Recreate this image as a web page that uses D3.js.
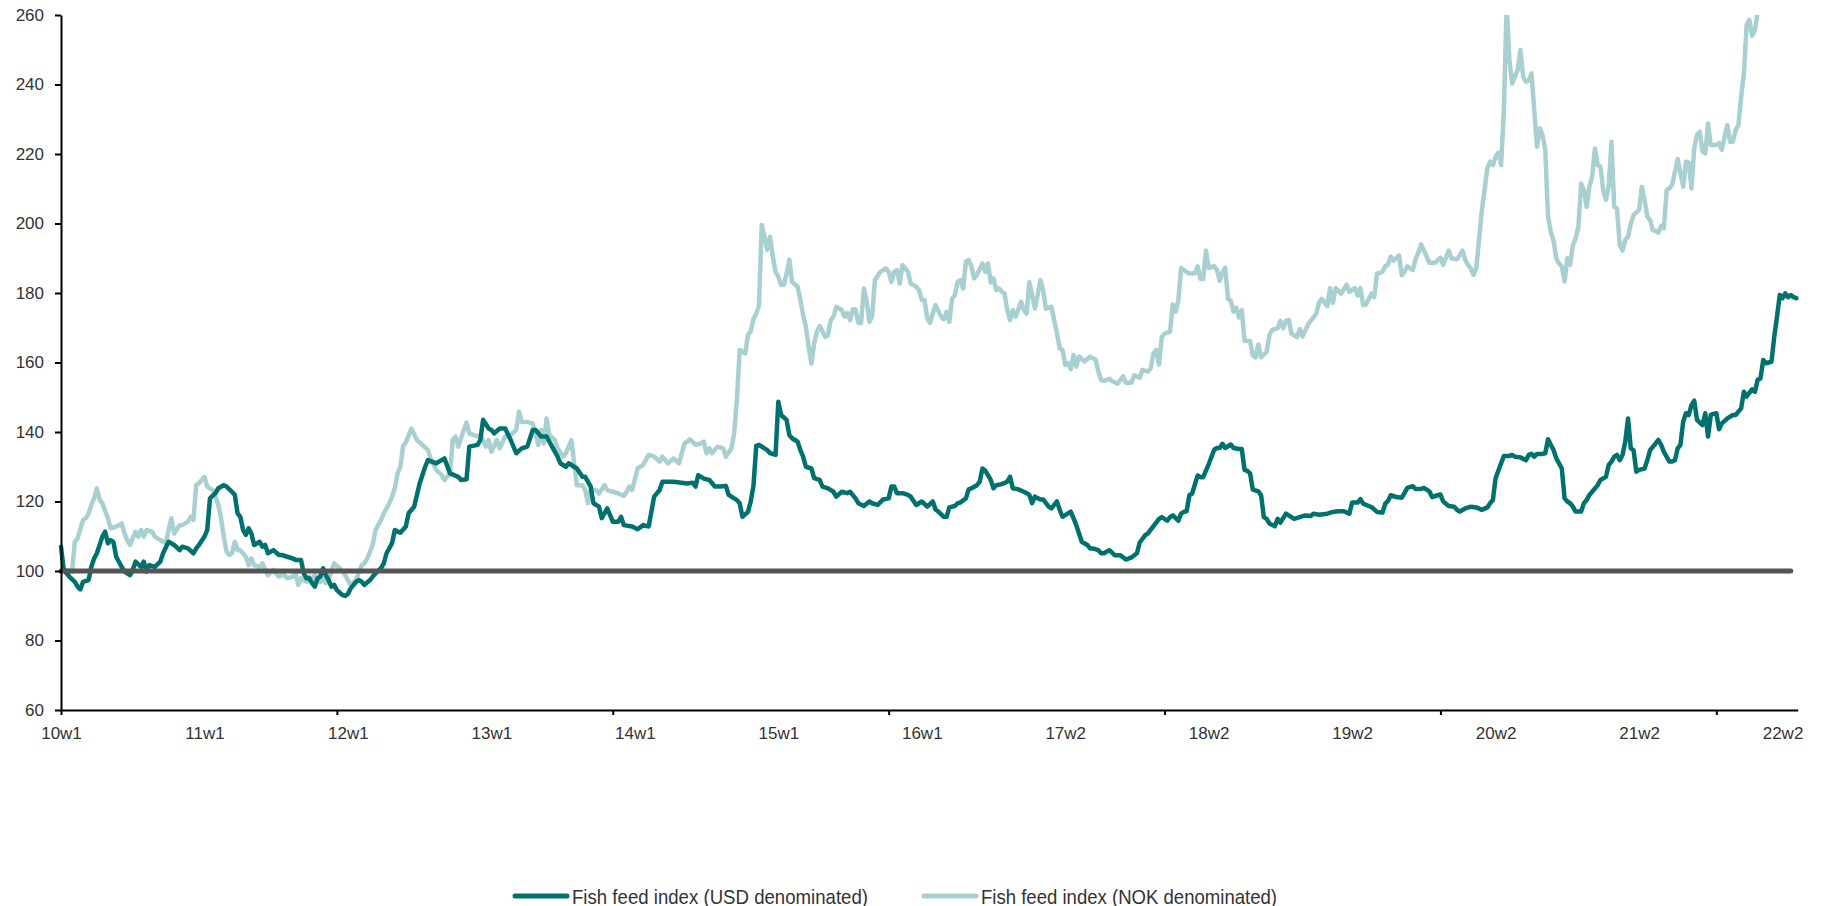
<!DOCTYPE html>
<html>
<head>
<meta charset="utf-8">
<script src="https://d3js.org/d3.v7.min.js"></script>
<style>
	body { margin: 0; background: #fff; }
	svg { display: block; }
</style>
</head>
<body>
<script>
// [week index, value], week 0 = 10w1
const usdSeries = [
	[0, 107], [1, 100.3], [3, 98.4], [5, 96.9], [6, 95.5], [7, 94.7], [8, 96.9], [10, 97.4], [11, 101.2], [12, 103.6],
	[13, 105.1], [15, 109.9], [16, 111.3], [17, 108], [18, 108.9], [19, 108.4], [20, 104.1], [22, 101.2], [23, 99.8], [25, 98.8],
	[26, 100.3], [27, 102.7], [29, 101.2], [30, 102.7], [31, 99.8], [32, 101.7], [34, 101.2], [36, 102.7], [37, 105.1], [39, 108.4],
	[41, 107.5], [43, 106], [44, 107], [46, 106.5], [48, 105.1], [49, 106.5], [50, 107.5], [52, 109.9], [53, 111.8], [54, 120.9],
	[56, 122.4], [57, 123.8], [59, 124.7], [60, 124.3], [62, 122.8], [63, 121.9], [64, 116.6], [65, 115.6], [66, 111.8], [67, 110.4],
	[68, 112.3], [69, 110.8], [70, 107.5], [72, 108.4], [73, 107], [74, 107.5], [75, 105.1], [77, 106], [79, 104.6], [80, 104.6],
	[82, 104.1], [84, 103.6], [85, 103.2], [87, 103.2], [88, 99.3], [89, 97.9], [90, 97.9], [91, 96.5], [92, 95.5], [93, 97.9],
	[94, 98.4], [95, 100.8], [96, 98.8], [97, 97.4], [98, 95.5], [99, 96], [100, 94.5], [102, 93.1], [103, 92.8], [104, 93.4],
	[105, 95], [107, 96.9], [108, 97.4], [109, 96.9], [110, 96], [112, 97.4], [113, 98.4], [114, 99.3], [116, 100.8], [117, 102.2],
	[118, 105.1], [120, 108], [121, 111.8], [123, 111], [125, 112.8], [126, 116.6], [128, 118.5], [130, 125.2], [132, 130], [133, 131.9],
	[136, 131], [139, 132.4], [141, 128.1], [144, 127.1], [145, 126.2], [147, 126.4], [148, 135.8], [151, 136.3], [152, 137.7], [153, 143.5],
	[155, 141], [156, 140.6], [157, 139.6], [159, 141], [161, 141], [163, 137.7], [165, 133.9], [167, 135.3], [169, 135.8], [171, 140.6],
	[172, 140.6], [174, 138.7], [176, 138.7], [178, 135.8], [180, 132.9], [181, 131], [183, 130], [184, 131], [187, 129.5], [189, 127.1],
	[190, 127.1], [192, 124.3], [193, 119.5], [195, 118.5], [196, 115.2], [198, 118], [200, 114.2], [202, 114.2], [203, 115.6], [204, 113.2],
	[207, 112.8], [209, 112], [211, 113.2], [213, 112.8], [215, 121.4], [217, 123.3], [218, 125.7], [222, 125.7], [227, 125.2], [229, 125.4],
	[230, 124.3], [231, 127.6], [233, 126.6], [235, 126.2], [237, 124.3], [239, 124.3], [241, 124.5], [242, 121.9], [245, 120.4], [246, 119.5],
	[247, 115.6], [249, 117], [250, 120], [251, 124.5], [252, 136], [253, 136.3], [255, 135.3], [256, 134.8], [257, 133.9], [259, 133.4],
	[260, 148.7], [261, 144.9], [263, 143.5], [264, 139.1], [265, 138.2], [267, 137.2], [268, 134.8], [269, 132.9], [270, 130], [272, 129.5],
	[273, 126.7], [275, 126.2], [276, 124.3], [278, 123.8], [280, 122.8], [281, 121.4], [283, 122.8], [285, 122.4], [286, 122.8], [288, 120.9],
	[289, 119.5], [291, 118.7], [293, 120], [294, 119.5], [296, 119], [298, 120.6], [300, 120.9], [301, 124.3], [302, 124.3], [303, 122.4],
	[305, 122.4], [307, 121.9], [308, 121.4], [310, 119], [312, 120], [314, 118.5], [316, 120], [317, 117.7], [318, 117.1], [320, 115.6],
	[321, 115.6], [322, 118.3], [324, 118.7], [325, 119.5], [326, 119.7], [328, 120.9], [329, 123.5], [330, 123.8], [332, 124.7], [333, 125.7],
	[334, 129.5], [335, 128.9], [336, 127.6], [337, 126.2], [338, 123.8], [339, 124.7], [341, 125], [343, 125.7], [344, 127.1], [345, 123.8],
	[347, 123.5], [349, 122.8], [350, 122.4], [351, 121.9], [352, 119.5], [353, 121.4], [355, 120.6], [356, 120.6], [358, 118.5], [359, 118],
	[360, 119], [361, 120], [362, 117.6], [363, 115.6], [364, 116.1], [366, 117.1], [367, 115.2], [368, 113.2], [369, 110.8], [370, 108.4],
	[372, 107.5], [373, 106.5], [374, 106.5], [376, 106], [377, 105.1], [378, 105.1], [380, 106], [382, 104.5], [384, 104.5], [386, 103.3],
	[388, 103.9], [390, 105.1], [391, 108.2], [393, 110.3], [394, 110.8], [396, 112.9], [398, 115], [399, 115.5], [401, 114.5], [402, 115.5],
	[403, 116], [405, 114.5], [406, 116.5], [407, 117], [408, 117.2], [409, 121.8], [410, 122.3], [412, 127.5], [413, 127], [414, 127],
	[416, 130.7], [418, 134.9], [419, 135.4], [420, 135.4], [421, 136.6], [422, 135.4], [424, 136.4], [425, 135.4], [427, 135.1], [428, 135.1],
	[429, 129.1], [430, 128.8], [431, 128.1], [432, 123.4], [434, 122.9], [435, 121.8], [436, 115.5], [437, 115], [438, 113.7], [440, 112.9],
	[441, 115], [442, 113.9], [444, 116.5], [445, 116], [447, 115], [449, 115.5], [451, 116], [453, 115.8], [454, 116.5], [456, 116.2],
	[459, 116.5], [461, 117], [463, 117.2], [465, 117.2], [467, 116.5], [468, 119.7], [470, 119.7], [471, 120.7], [472, 119.4], [474, 118.7],
	[475, 118.4], [477, 117], [479, 116.8], [480, 119.4], [481, 120.2], [482, 121.8], [484, 121.3], [486, 121.1], [487, 122.5], [488, 123.9],
	[490, 124.4], [491, 123.6], [493, 123.6], [494, 123.9], [496, 122.9], [497, 121.3], [499, 121.8], [500, 122], [501, 120], [503, 118.7],
	[505, 118.5], [506, 117.6], [507, 117.1], [509, 118], [511, 118.5], [513, 118.3], [515, 117.6], [517, 118.3], [518, 119.5], [519, 120.4],
	[520, 126.7], [522, 131], [523, 133.1], [525, 133.1], [526, 133.4], [527, 132.9], [529, 132.7], [531, 131.9], [532, 133.4], [533, 133.7],
	[534, 132.9], [535, 133.7], [537, 133.7], [538, 133.9], [539, 137.9], [540, 136.3], [541, 134.8], [542, 132.4], [544, 129.5], [545, 120.9],
	[546, 120], [547, 119.5], [548, 118.5], [549, 117.1], [551, 117.1], [552, 119.5], [553, 120.4], [554, 121.9], [555, 122.8], [557, 124.7],
	[558, 126.2], [560, 127.1], [561, 130.5], [562, 131.5], [563, 132.9], [564, 133.4], [565, 131.9], [566, 133.4], [567, 137.2], [568, 143.9],
	[569, 135.3], [570, 134.8], [571, 128.6], [572, 129.1], [574, 129.5], [575, 131.9], [576, 134.8], [578, 136.7], [579, 137.7], [580, 136.3],
	[581, 134.3], [583, 131.5], [584, 131.5], [585, 131.9], [586, 135.3], [587, 136.3], [588, 143], [589, 145.4], [590, 144.9], [591, 147.8],
	[592, 149], [593, 143.5], [595, 142], [596, 145.4], [597, 138.7], [598, 144.9], [599, 145.2], [600, 145.4], [601, 140.8], [602, 142.5],
	[604, 143.9], [606, 144.9], [607, 144.9], [609, 146.8], [610, 151.6], [611, 150.2], [612, 151.3], [613, 152.3], [614, 151.6], [615, 155],
	[616, 155.4], [617, 160.7], [618, 159.8], [620, 160.2], [621, 167.4], [622, 173.2], [623, 179.4], [624, 178.5], [625, 179.9], [626, 178.8],
	[627, 179.4], [628, 178.8], [629, 178.5]
];

const nokSeries = [
	[0, 99.8], [2, 100.3], [4, 99.8], [5, 108.4], [6, 109.4], [8, 114.7], [9, 115.2], [10, 116.6], [11, 119], [12, 121],
	[13, 123.8], [14, 120.4], [15, 119.5], [17, 115.2], [18, 112.3], [20, 112.8], [21, 113.2], [22, 113.7], [23, 110.8], [24, 108.9],
	[25, 107.5], [27, 111.3], [28, 109.9], [29, 111.8], [30, 109.9], [31, 111.8], [33, 111.3], [34, 109.9], [36, 108.9], [38, 108],
	[39, 111.8], [40, 115.2], [41, 110.8], [43, 113.2], [44, 113.2], [46, 114.2], [47, 115.6], [48, 114.7], [49, 124.7], [50, 125.2],
	[51, 126.2], [52, 127.1], [53, 124.3], [55, 123.3], [56, 121.4], [57, 119], [58, 115.2], [59, 109.9], [60, 105.6], [61, 104.6],
	[62, 105.1], [63, 108.4], [64, 106], [65, 106], [67, 104.1], [68, 101.7], [69, 103.6], [70, 101.7], [72, 101.2], [73, 102.2],
	[74, 100.3], [75, 98.8], [77, 100.3], [78, 99.3], [79, 98.4], [80, 98.8], [81, 98.8], [82, 97.9], [84, 98.4], [85, 99.3],
	[86, 96], [87, 97.9], [89, 96.9], [90, 98.4], [91, 97.4], [92, 98.8], [94, 96.9], [95, 97.9], [96, 96.5], [97, 97.4],
	[98, 99.8], [99, 102.2], [101, 100.8], [102, 99.8], [103, 98.8], [104, 97.4], [105, 96], [107, 97.4], [108, 99.8], [109, 101.7],
	[110, 102.2], [111, 103.6], [113, 107.5], [114, 111.8], [116, 114.7], [117, 116.6], [119, 119.5], [120, 121.4], [121, 123.8], [122, 128.1],
	[123, 130], [124, 136], [125, 137], [127, 141], [129, 137.7], [131, 136.3], [133, 134.8], [134, 132.4], [136, 129.1], [138, 127.6],
	[139, 126.2], [141, 128.1], [142, 137.7], [143, 138.7], [144, 135.8], [146, 140.6], [147, 142.7], [148, 139.6], [151, 138.7], [152, 139.1],
	[154, 135.8], [155, 137.7], [156, 134.3], [158, 137.7], [159, 135.3], [161, 138.7], [163, 139.1], [165, 140.6], [166, 145.8], [167, 142.9],
	[169, 142.9], [171, 142.4], [172, 139.6], [173, 136.3], [174, 140.6], [175, 136.7], [176, 143.9], [177, 139.1], [179, 137.7], [180, 135.3],
	[182, 132.9], [183, 133.9], [185, 137.7], [186, 131], [187, 124.7], [189, 124.7], [190, 123.3], [191, 119.5], [192, 123.3], [194, 123.3],
	[195, 122.3], [197, 124.7], [198, 123.3], [200, 122.8], [202, 122.3], [204, 121.6], [205, 122.8], [206, 124.3], [207, 123.3], [209, 129.5],
	[211, 130.5], [213, 133.4], [215, 132.9], [217, 131.5], [218, 132.9], [220, 131], [222, 132.4], [224, 131], [226, 136.7], [227, 137.2],
	[228, 137.9], [230, 136.3], [232, 136.7], [233, 137.2], [234, 133.9], [235, 135.3], [236, 133.9], [238, 135.8], [240, 135.3], [241, 132.9],
	[243, 135.3], [244, 139.6], [245, 149.2], [246, 163.6], [248, 162.6], [249, 167.9], [250, 169], [251, 172.5], [252, 174], [253, 176.5],
	[254, 199.6], [255, 196.2], [256, 192.4], [257, 196.2], [258, 190.5], [259, 186.1], [260, 184.7], [261, 182.3], [262, 182.3], [263, 185.6],
	[264, 189.6], [265, 183.2], [267, 181.8], [268, 178], [269, 173.7], [270, 170.3], [271, 164.5], [272, 159.7], [273, 165.5], [274, 168.9],
	[275, 170.5], [277, 167.4], [278, 167.9], [279, 172.2], [280, 173.2], [281, 176], [283, 175.1], [284, 173.2], [285, 174.3], [286, 172.2],
	[287, 175.3], [288, 175.3], [289, 171.4], [290, 171.3], [291, 181.3], [292, 178], [293, 171.7], [294, 173.2], [295, 183.7], [297, 186.1],
	[298, 186.6], [299, 187.1], [300, 186.1], [301, 183.2], [302, 186.1], [303, 186.6], [304, 182.7], [305, 188], [307, 186.1], [308, 182.7],
	[310, 181.8], [311, 180.8], [312, 178], [313, 178], [314, 172.7], [315, 171.4], [316, 174.1], [317, 176.5], [319, 173.2], [320, 172.4],
	[321, 174.6], [322, 171.7], [323, 178.4], [324, 179.4], [325, 183.2], [326, 183.7], [327, 181.3], [328, 189], [329, 189.5], [330, 187.6],
	[331, 184.2], [332, 185.2], [334, 188.5], [335, 186.1], [336, 188.5], [337, 183], [338, 184.2], [339, 180.8], [340, 181.3], [341, 180.4],
	[342, 179.9], [343, 175.1], [344, 172.2], [345, 175.1], [346, 173.2], [348, 177.5], [349, 175.1], [350, 174.1], [351, 183.2], [352, 179.4],
	[353, 175.5], [354, 179.4], [355, 183.7], [356, 180.8], [357, 175.5], [359, 176], [360, 172.2], [361, 168.4], [362, 164.1], [363, 163.6],
	[364, 159.3], [365, 159.8], [366, 158.1], [367, 162.2], [368, 158.8], [369, 161.7], [371, 160.3], [372, 161], [373, 161.7], [375, 160.8],
	[376, 157.4], [377, 155], [378, 154.7], [380, 155.3], [381, 154.7], [383, 153.9], [385, 156], [386, 154.2], [388, 154.2], [389, 156.3],
	[391, 155.6], [392, 157.9], [394, 157.4], [395, 158.4], [396, 162.6], [397, 163.6], [398, 159.4], [399, 167.3], [400, 168.3], [402, 168.9],
	[403, 176.7], [404, 174.6], [405, 177.8], [406, 187.2], [407, 186.6], [409, 185.6], [411, 185.6], [412, 187.7], [413, 184], [414, 184],
	[415, 192.2], [416, 187.2], [418, 187.7], [419, 186.6], [420, 183.5], [421, 185.9], [422, 187.2], [423, 178.3], [424, 177.8], [425, 174.6],
	[426, 175.8], [427, 173], [428, 175.1], [429, 166.2], [431, 166.2], [432, 162], [433, 161.5], [434, 165.2], [435, 161.5], [437, 163.1],
	[438, 167.8], [439, 169.4], [441, 169.9], [442, 172], [443, 169.9], [444, 172], [445, 172.3], [446, 168.3], [448, 167.3], [449, 169.6],
	[450, 167.5], [452, 170.9], [453, 172], [455, 174.1], [456, 177.2], [457, 178.3], [459, 176.2], [460, 181.4], [461, 177.2], [462, 181.4],
	[464, 179.8], [466, 182.4], [467, 180.3], [469, 181.4], [470, 179.3], [471, 181.4], [472, 176.5], [473, 176.7], [475, 179.8], [476, 178.8],
	[477, 185.6], [479, 186.1], [480, 187.7], [481, 188.2], [482, 190.5], [483, 189.3], [485, 190.8], [486, 185.1], [487, 186.1], [488, 187.7],
	[490, 186.6], [491, 189.8], [492, 191.6], [493, 194], [495, 190.5], [496, 188.7], [498, 188.7], [500, 190.2], [501, 188.1], [503, 192.2],
	[504, 190], [506, 189.7], [507, 190.9], [508, 192.2], [509, 189.5], [510, 188.1], [511, 187.1], [512, 185.2], [513, 187.1], [514, 195.3],
	[515, 203.9], [516, 209.6], [517, 215.9], [518, 217.8], [519, 216.8], [520, 219.2], [521, 220.4], [522, 216.8], [523, 232.7], [524, 263],
	[525, 247], [526, 240.3], [528, 244.2], [529, 249.9], [530, 242.2], [531, 240.8], [532, 241.1], [533, 243.2], [534, 232.7], [535, 222.1],
	[536, 227.4], [537, 225.5], [538, 221.2], [539, 202], [540, 197.6], [541, 195], [542, 190], [543, 188.5], [544, 187.6], [545, 183.3],
	[546, 190], [547, 188.1], [548, 193.8], [549, 195.7], [550, 199.1], [551, 211.5], [552, 209.6], [553, 204.8], [554, 210.6], [555, 213.5],
	[556, 221.6], [557, 216.8], [558, 216.4], [559, 209.6], [560, 206.8], [561, 210.6], [562, 223.5], [563, 204.8], [564, 204.4], [565, 193.8],
	[566, 192.2], [567, 195.3], [568, 196.2], [569, 200], [570, 202.4], [572, 203.9], [573, 210.6], [574, 206.8], [575, 202], [576, 201],
	[577, 198.1], [578, 197.9], [579, 197.4], [580, 199.3], [581, 198.7], [582, 209.6], [583, 210.1], [584, 211.1], [586, 218.6], [588, 210.6],
	[589, 217.8], [590, 217.5], [591, 210.1], [592, 221.6], [593, 225.5], [594, 226.4], [595, 220.7], [596, 220.2], [597, 228.8], [598, 222.6],
	[600, 222.6], [601, 223.1], [602, 221.2], [603, 225], [604, 228.3], [605, 223.5], [606, 223.5], [607, 226.9], [608, 228.3], [609, 236.5],
	[610, 243.2], [611, 257.1], [612, 258.6], [613, 254], [614, 255.7], [615, 261], [616, 266], [620, 270], [625, 276], [629, 280]
];

const baseSeries = [[0, 100], [627, 100]];

const yTicks = [60, 80, 100, 120, 140, 160, 180, 200, 220, 240, 260];
const xTickWeeks = [0, 100, 200, 300, 400, 500, 600];
const xLabelWeeks = [0, 52, 104, 156, 208, 260, 312, 364, 416, 468, 520, 572, 624];
const xLabels = [`10w1`, `11w1`, `12w1`, `13w1`, `14w1`, `15w1`, `16w1`, `17w2`, `18w2`, `19w2`, `20w2`, `21w2`, `22w2`];
const seriesNames = [`Fish feed index (USD denominated)`, `Fish feed index (NOK denominated)`];

const usdColor = `#00716c`;
const nokColor = `#a8d0d0`;
const labelFont = `'Liberation Sans', Arial, sans-serif`;

const svg = d3
	.select('body')
	.append('svg')
	.attr('width', 1823)
	.attr('height', 906);

const x = d3.scaleLinear().domain([0, 629.5]).range([61, 1797.7]);
const y = d3.scaleLinear().domain([60, 260]).range([710, 15]);

svg
	.append('defs')
	.append('clipPath')
	.attr('id', 'plot-area')
	.append('rect')
	.attr('x', 50)
	.attr('y', 15)
	.attr('width', 1760)
	.attr('height', 700);

const line = d3
	.line()
	.x(d => x(d[0]))
	.y(d => y(d[1]));

// NOK under USD, the 100 line on top
const lines = [
	{ values: nokSeries, color: nokColor, width: 4.5 },
	{ values: usdSeries, color: usdColor, width: 4.5 },
	{ values: baseSeries, color: `#555555`, width: 5 }
];

svg
	.append('g')
	.attr('clip-path', 'url(#plot-area)')
	.selectAll('path')
	.data(lines)
	.enter()
	.append('path')
	.attr('d', d => line(d.values))
	.attr('fill', 'none')
	.attr('stroke', d => d.color)
	.attr('stroke-width', d => d.width)
	.attr('stroke-linejoin', 'round')
	.attr('stroke-linecap', 'round');

// y axis
const yAxis = svg
	.append('g')
	.attr('transform', 'translate(61,0)')
	.call(d3.axisLeft(y).tickValues(yTicks).tickSize(6).tickSizeOuter(0).tickPadding(11));

// x axis: tick marks every 100 weeks, labels every 52 weeks
const xAxis = svg
	.append('g')
	.attr('transform', 'translate(0,710)')
	.call(d3.axisBottom(x).tickValues(xTickWeeks).tickSize(5).tickSizeOuter(0).tickFormat(''));

const xLabelAxis = svg
	.append('g')
	.attr('transform', 'translate(0,710)')
	.call(d3.axisBottom(x).tickValues(xLabelWeeks).tickSize(0).tickPadding(17).tickFormat((d, i) => xLabels[i]));
xLabelAxis.select('.domain').remove();

[yAxis, xAxis, xLabelAxis].forEach(g => {
	g.selectAll('.domain, .tick line').attr('stroke', '#000').attr('stroke-width', 2);
	g.selectAll('text').attr('fill', '#333').attr('font-family', labelFont).attr('font-size', 17);
});

// legend
const legendX = [515, 924];
const legend = svg
	.append('g')
	.selectAll('g')
	.data(seriesNames)
	.enter()
	.append('g')
	.attr('transform', (d, i) => `translate(${legendX[i]},896)`);

legend
	.append('line')
	.attr('x1', 0)
	.attr('x2', 52)
	.attr('stroke', (d, i) => [usdColor, nokColor][i])
	.attr('stroke-width', 5)
	.attr('stroke-linecap', 'round');

legend
	.append('text')
	.text(d => d)
	.attr('x', 57)
	.attr('y', 7.5)
	.attr('fill', '#333')
	.attr('font-family', `'Liberation Sans Narrow', 'Arial Narrow', 'Liberation Sans', Arial, sans-serif`)
	.attr('font-size', 21)
	.attr('textLength', 296)
	.attr('lengthAdjust', 'spacingAndGlyphs');
</script>
</body>
</html>
